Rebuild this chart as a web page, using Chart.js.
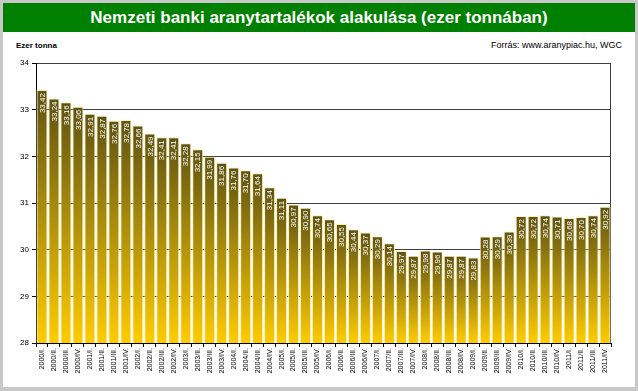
<!DOCTYPE html>
<html>
<head>
<meta charset="utf-8">
<script src="https://cdn.jsdelivr.net/npm/chart.js@4.4.1/dist/chart.umd.min.js"></script>
<style>
  body { margin: 0; background: #c8c8c8; font-family: "Liberation Sans", Arial, sans-serif; }
  #wrap { position: relative; width: 638px; height: 391px; overflow: hidden; }
  #panel { position: absolute; left: 3px; top: 3px; width: 632px; height: 384px; background: #fff; }
  #title { position: absolute; left: 3px; top: 3px; width: 632px; height: 29px; background: #008000;
           color: #fff; font-weight: bold; font-size: 17px; text-align: center; line-height: 29px; }
  #unit { position: absolute; left: 16px; top: 41px; font-size: 8px; font-weight: bold; color: #000; }
  #src { position: absolute; right: 16px; top: 40px; font-size: 9px; color: #000; }
  #chartBox { position: absolute; left: 0; top: 0; width: 638px; height: 391px; }
</style>
</head>
<body>
<div id="wrap">
  <div id="panel"></div>
  <div id="title">Nemzeti banki aranytartalékok alakulása (ezer tonnában)</div>
  <div id="unit">Ezer tonna</div>
  <div id="src">Forrás: www.aranypiac.hu, WGC</div>
  <div id="chartBox"><canvas id="goldChart" width="638" height="391"></canvas></div>
</div>
<script>
const years = [2000, 2001, 2002, 2003, 2004, 2005, 2006, 2007, 2008, 2009, 2010, 2011];
const quarters = ["I.", "II.", "III.", "IV."];

const reserves = [
  33.42, 33.24, 33.16, 33.06,
  32.91, 32.87, 32.76, 32.78,
  32.66, 32.49, 32.41, 32.41,
  32.28, 32.15, 31.99, 31.86,
  31.76, 31.70, 31.64, 31.34,
  31.11, 30.97, 30.90, 30.74,
  30.65, 30.55, 30.44, 30.37,
  30.29, 30.14, 29.97, 29.87,
  29.98, 29.96, 29.87, 29.87,
  29.83, 30.28, 30.29, 30.39,
  30.72, 30.72, 30.74, 30.71,
  30.68, 30.70, 30.74, 30.92
];

const yMin = 28;
const yMax = 34;

// Build "2000/I." style labels
const labels = [];
years.forEach(y => quarters.forEach(q => labels.push(y + "/" + q)));

// Value labels written inside the bars, rotated
const barLabels = {
  id: "barLabels",
  afterDatasetsDraw(chart) {
    const ctx = chart.ctx;
    const meta = chart.getDatasetMeta(0);
    ctx.save();
    ctx.fillStyle = "#ffffff";
    ctx.font = "8px 'Liberation Sans', Arial, sans-serif";
    ctx.textAlign = "right";
    ctx.textBaseline = "middle";
    meta.data.forEach((bar, i) => {
      ctx.save();
      ctx.translate(bar.x, bar.y + 3);
      ctx.rotate(-Math.PI / 2);
      ctx.fillText(reserves[i].toFixed(2).replace(".", ","), 0, 0.5);
      ctx.restore();
    });
    ctx.restore();
  }
};

// Right border of the plot area (drawn behind bars)
const plotBorder = {
  id: "plotBorder",
  beforeDatasetsDraw(chart) {
    const { ctx, chartArea } = chart;
    ctx.save();
    ctx.strokeStyle = "#404040";
    ctx.lineWidth = 1;
    ctx.beginPath();
    ctx.moveTo(Math.round(chartArea.right) - 0.5, chartArea.top);
    ctx.lineTo(Math.round(chartArea.right) - 0.5, chartArea.bottom);
    ctx.stroke();
    ctx.restore();
  }
};

function barGradient(context) {
  const chart = context.chart;
  const area = chart.chartArea;
  if (!area || !chart.scales.y) return "#c9a000";
  const top = chart.scales.y.getPixelForValue(context.raw);
  const g = chart.ctx.createLinearGradient(0, top, 0, area.bottom);
  g.addColorStop(0, "#5e5212");
  g.addColorStop(0.45, "#a88a0c");
  g.addColorStop(1, "#ffcc00");
  return g;
}

const ctx = document.getElementById("goldChart").getContext("2d");
new Chart(ctx, {
  type: "bar",
  data: {
    labels: labels,
    datasets: [{
      data: reserves,
      backgroundColor: barGradient,
      borderColor: "#fff0b0",
      borderWidth: 1,
      borderSkipped: false,
      categoryPercentage: 0.92,
      barPercentage: 1
    }]
  },
  options: {
    responsive: false,
    animation: false,
    events: [],
    layout: { padding: { top: 63, right: 27, left: 0, bottom: 0 } },
    plugins: { legend: { display: false }, tooltip: { enabled: false } },
    scales: {
      x: {
        afterFit: s => { s.height = 48; },
        grid: { drawOnChartArea: false, drawTicks: true, tickLength: 4, color: "#000" },
        border: { color: "#000", width: 1 },
        ticks: {
          autoSkip: false, maxRotation: 90, minRotation: 90, padding: 1,
          color: "#000", font: { size: 7, family: "'Liberation Sans', Arial, sans-serif" }
        }
      },
      y: {
        min: yMin,
        max: yMax,
        afterFit: s => { s.width = 36; },
        grid: { color: "#404040", lineWidth: 1, tickLength: 4, tickColor: "#000" },
        border: { color: "#000", width: 1 },
        ticks: {
          stepSize: 1, padding: 3, color: "#000",
          font: { size: 8, family: "'Liberation Sans', Arial, sans-serif" }
        }
      }
    }
  },
  plugins: [plotBorder, barLabels]
});
</script>
</body>
</html>
